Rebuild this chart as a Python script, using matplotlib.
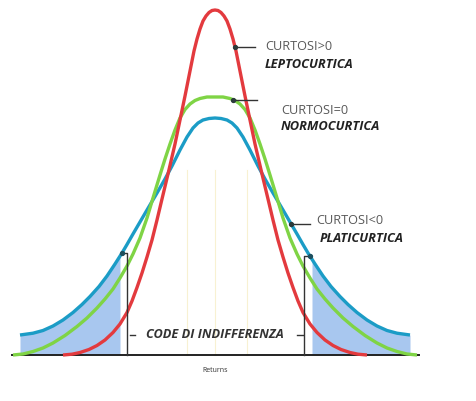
import numpy as np
import matplotlib.pyplot as plt

# Half profiles (distance from centre, height above baseline),
# the curves are symmetric so each half is mirrored.
red_d = [0, 3, 6, 9, 12, 15, 18, 21, 25, 30, 35, 40, 47, 53, 58, 63, 68, 73, 78,
         83, 88, 95, 102, 110, 118, 126, 135, 143, 152]
red_h = [345, 344.5, 342.5, 339, 334, 326, 316, 304, 284, 259, 235, 211, 181, 156,
         135, 115, 98, 82, 67.5, 54, 42.5, 31, 22.5, 15, 9.5, 5.5, 2.5, 0.8, 0]

green_d = [0, 8, 15, 20, 25, 30, 35, 40, 45, 50, 55, 62, 68, 75, 82, 88, 95, 102,
           110, 118, 128, 138, 150, 162, 172, 182, 192, 202]
green_h = [258, 258, 256.5, 254.5, 251, 245.5, 237, 225, 211, 196, 180, 157, 137, 117,
           101, 89, 77, 66, 56, 47, 37, 28.5, 19.5, 12, 7, 3.5, 1, 0]

blue_d = [0, 6, 12, 17, 22, 28, 35, 43, 50, 58, 68, 75, 82, 88, 93, 100, 108, 116,
          125, 133, 142, 152, 162, 172, 182, 195]
blue_h = [237, 236.5, 235, 232, 227, 218, 205, 189, 176, 162, 145, 133, 121, 110.5, 102,
          91, 79, 68.5, 58.5, 50.5, 42.5, 35, 29, 24.5, 21.8, 20]

curve_labels = ["CURTOSI<0", "CURTOSI=0", "CURTOSI>0"]
curve_names = ["PLATICURTICA", "NORMOCURTICA", "LEPTOCURTICA"]
colors = ["#1b9cc6", "#7fd445", "#e33a3e"]

tail_cuts = [-95, 97]
bracket_x = [-88, 89]
bracket_dot = [-93, 95]
leader_dot = [76, 18, 20]
leader_end = [95, 42, 40]
text_x = [(101, 105), (66, 66), (50, 50)]
text_y = [(135, 117), (245, 228), (308, 290)]


def full(d, h):
    d = np.asarray(d, float)
    h = np.asarray(h, float)
    x = np.concatenate([-d[::-1], d[1:]])
    y = np.concatenate([h[::-1], h[1:]])
    return x, y


profiles = [full(blue_d, blue_h), full(green_d, green_h), full(red_d, red_h)]

fig = plt.figure(figsize=(4.76, 4.01), dpi=100)
ax = fig.add_axes([0, 0, 1, 1])
ax.set_xlim(-215, 261)
ax.set_ylim(-46, 355)
ax.axis("off")

# faint vertical guides
for gx in [-28, 0, 32]:
    ax.plot([gx, gx], [0, 185], color="#f8f1d2", lw=0.8, zorder=1)

# shaded tails under blue curve
bx, by = profiles[0]
for lo, hi in [(bx.min(), tail_cuts[0]), (tail_cuts[1], bx.max())]:
    m = (bx > lo) & (bx < hi)
    xs = np.concatenate([[lo], bx[m], [hi]])
    ys = np.concatenate([[np.interp(lo, bx, by)], by[m], [np.interp(hi, bx, by)]])
    ax.fill_between(xs, 0, ys, color="#a8c7ef", lw=0, zorder=1)

# baseline
ax.plot([-203, 204], [0, 0], color="#222222", lw=1.4, zorder=2)

# curves
for i, (x, y) in enumerate(profiles):
    ax.plot(x, y, color=colors[i], lw=2.4, zorder=3 + i,
            solid_joinstyle="round", solid_capstyle="butt")

# brackets for tails
for bxx, dx in zip(bracket_x, bracket_dot):
    yd = np.interp(dx, bx, by)
    ax.plot([bxx, bxx, dx], [0, yd, yd], color="#333333", lw=1.0, zorder=7)
    ax.plot([dx], [yd], "o", color="#1d4f5e", ms=2.8, zorder=8)

# leaders and labels
for i, (x, y) in enumerate(profiles):
    yd = np.interp(leader_dot[i], x, y)
    ax.plot([leader_dot[i], leader_end[i]], [yd, yd], color="#333333", lw=1.0, zorder=7)
    ax.plot([leader_dot[i]], [yd], "o", color="#2b3b3b", ms=2.8, zorder=8)
    ax.text(text_x[i][0], text_y[i][0], curve_labels[i], fontsize=9.2, color="#595959",
            family="Open Sans", va="center", ha="left")
    ax.text(text_x[i][1], text_y[i][1], curve_names[i], fontsize=9.3, color="#222222",
            family="Open Sans", weight="bold", style="italic", va="center", ha="left")

# code di indifferenza
ax.text(0, 20, "CODE DI INDIFFERENZA", fontsize=9.2, color="#333333",
        family="Open Sans", weight="bold", style="italic", va="center", ha="center")
ax.plot([-85, -80], [20, 20], color="#333333", lw=1.0)
ax.plot([82, 88], [20, 20], color="#333333", lw=1.0)

ax.text(0, -16, "Returns", fontsize=5, color="#333333", family="Open Sans",
        va="center", ha="center")

fig.savefig("out.png", dpi=100)
